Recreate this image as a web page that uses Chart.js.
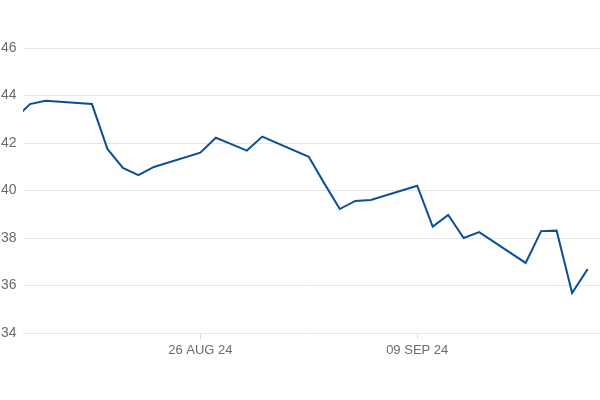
<!DOCTYPE html>
<html lang="en">
<head>
    <meta charset="UTF-8">
    <title>Price chart</title>
    <script src="https://cdn.jsdelivr.net/npm/chart.js"></script>
    <style>
        html, body {
            margin: 0;
            padding: 0;
            background: #ffffff;
        }
        #wrap {
            width: 600px;
            height: 400px;
        }
    </style>
</head>
<body>
    <div id="wrap">
        <canvas id="chart"></canvas>
    </div>

    <script>
        // data
        const dates = [
            '2024-08-14', '2024-08-15', '2024-08-16', '2024-08-19', '2024-08-20',
            '2024-08-21', '2024-08-22', '2024-08-23', '2024-08-26', '2024-08-27',
            '2024-08-28', '2024-08-29', '2024-08-30', '2024-09-02', '2024-09-03',
            '2024-09-04', '2024-09-05', '2024-09-06', '2024-09-09', '2024-09-10',
            '2024-09-11', '2024-09-12', '2024-09-13', '2024-09-16', '2024-09-17',
            '2024-09-18', '2024-09-19', '2024-09-20'
        ];
        const prices = [
            43.0, 43.64, 43.78, 43.64, 41.75,
            40.95, 40.65, 40.99, 41.59, 42.22,
            41.95, 41.68, 42.27, 41.42, 40.3,
            39.22, 39.56, 39.60, 40.20, 38.48,
            38.97, 38.00, 38.25, 36.95, 38.29,
            38.31, 35.68, 36.69
        ];
        const tickDates = ['2024-08-26', '2024-09-09'];
        const tickLabels = ['26 AUG 24', '09 SEP 24'];
        const yTicks = [34, 36, 38, 40, 42, 44, 46];

        // days counted from the first tick date (no date adapter offline)
        const DAY = 86400000;
        const base = Date.parse(tickDates[0]);
        const toDay = d => (Date.parse(d) - base) / DAY;

        const points = dates.map((d, i) => ({ x: toDay(d), y: prices[i] }));
        const tickDays = tickDates.map(toDay);

        const textColor = '#6b6b6b';
        const gridColor = '#e6e6e6';

        new Chart(document.getElementById('chart'), {
            type: 'line',
            data: {
                datasets: [{
                    data: points,
                    borderColor: '#0b4f96',
                    borderWidth: 2,
                    pointRadius: 0,
                    tension: 0,
                    fill: false
                }]
            },
            options: {
                responsive: true,
                maintainAspectRatio: false,
                animation: false,
                layout: { padding: { top: 48, right: 0, bottom: 0, left: 1 } },
                plugins: {
                    legend: { display: false },
                    tooltip: { enabled: false }
                },
                scales: {
                    x: {
                        type: 'linear',
                        min: -11.45,
                        max: 25.8,
                        afterBuildTicks: scale => {
                            scale.ticks = tickDays.map(v => ({ value: v }));
                        },
                        afterFit: scale => { scale.height = 67; },
                        border: { display: false },
                        grid: {
                            drawOnChartArea: false,
                            drawTicks: true,
                            tickLength: 6,
                            color: '#d9d9d9'
                        },
                        ticks: {
                            padding: 4,
                            maxRotation: 0,
                            color: textColor,
                            font: { family: 'Liberation Sans, Arial, sans-serif', size: 13 },
                            callback: v => {
                                const i = tickDays.indexOf(v);
                                return i >= 0 ? tickLabels[i] : '';
                            }
                        }
                    },
                    y: {
                        min: 34,
                        max: 46,
                        afterBuildTicks: scale => {
                            scale.ticks = yTicks.map(v => ({ value: v }));
                        },
                        afterFit: scale => { scale.width = 22; },
                        border: { display: false },
                        grid: {
                            color: gridColor,
                            lineWidth: 1,
                            drawTicks: false
                        },
                        ticks: {
                            padding: 4,
                            crossAlign: 'far',
                            color: textColor,
                            font: { family: 'Liberation Sans, Arial, sans-serif', size: 14 }
                        }
                    }
                }
            }
        });
    </script>
</body>
</html>
